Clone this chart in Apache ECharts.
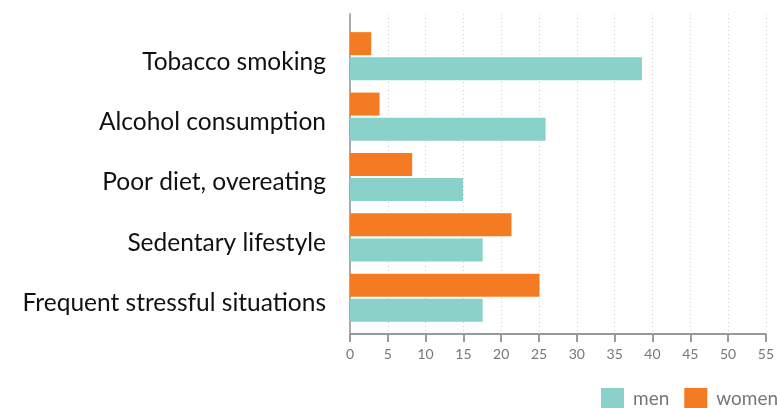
<!DOCTYPE html>
<html>
<head>
<meta charset="utf-8">
<style>
  html, body { margin: 0; padding: 0; background: #fff; }
  #chart { width: 777px; height: 408px; }
</style>
<script src="https://cdn.jsdelivr.net/npm/echarts@6/dist/echarts.min.js"></script>
</head>
<body>
<div id="chart"></div>
<script>
// Health risk factors, share of respondents (%)
const categories = [
  'Tobacco smoking',
  'Alcohol consumption',
  'Poor diet, overeating',
  'Sedentary lifestyle',
  'Frequent stressful situations'
];
const men = [38.5, 25.8, 14.9, 17.5, 17.5];
const women = [2.8, 3.9, 8.2, 21.3, 25];
const xTicks = { min: 0, max: 55, interval: 5 };

const COLOR_MEN = '#8ad1c9';
const COLOR_WOMEN = '#f47b21';
const FONT = 'Lato, "Open Sans", sans-serif';

const chart = echarts.init(document.getElementById('chart'), null, { renderer: 'canvas' });

chart.setOption({
  animation: false,
  backgroundColor: '#fff',
  legend: {
    data: ['men', 'women'],
    left: 601,
    top: 388,
    width: 400,
    padding: 0,
    itemWidth: 23,
    itemHeight: 22,
    itemGap: 15,
    icon: 'rect',
    textStyle: { color: '#777', fontSize: 19, fontFamily: FONT, padding: [0, 0, 0, 4] }
  },
  grid: [
    // bars
    { left: 350, right: 10, top: 26, bottom: 80, containLabel: false },
    // frame: axis lines, ticks, dotted guides
    { left: 350, right: 10, top: 14, bottom: 74, containLabel: false }
  ],
  xAxis: [
    {
      gridIndex: 0, type: 'value',
      min: xTicks.min, max: xTicks.max, interval: xTicks.interval,
      show: false
    },
    {
      gridIndex: 1, type: 'value',
      min: xTicks.min, max: xTicks.max, interval: xTicks.interval,
      axisLine: { show: true, lineStyle: { color: '#9a9a9a', width: 2 } },
      axisTick: { show: true, length: 8, lineStyle: { color: '#9a9a9a', width: 2 } },
      axisLabel: { color: '#777', fontSize: 14, fontFamily: FONT, margin: 13 },
      splitLine: { show: true, lineStyle: { color: '#cfcfcf', type: [1, 3], width: 1 } }
    }
  ],
  yAxis: [
    {
      gridIndex: 0, type: 'category', data: categories, inverse: true,
      axisLine: { show: false },
      axisTick: { show: false },
      axisLabel: {
        margin: 24,
        formatter: '{t|{value}}',
        rich: {
          t: { color: '#111', fontSize: 24.5, fontFamily: FONT, padding: [11, 0, 0, 0] }
        }
      },
      splitLine: { show: false }
    },
    {
      gridIndex: 1, type: 'value', min: 0, max: 1,
      axisLine: { show: true, lineStyle: { color: '#aaa', width: 2 } },
      axisTick: { show: false },
      axisLabel: { show: false },
      splitLine: { show: false }
    }
  ],
  series: [
    {
      name: 'women', type: 'bar', xAxisIndex: 0, yAxisIndex: 0,
      data: women, barWidth: 23, barGap: '9%',
      itemStyle: { color: COLOR_WOMEN }, z: 3
    },
    {
      name: 'men', type: 'bar', xAxisIndex: 0, yAxisIndex: 0,
      data: men, barWidth: 23, barGap: '9%',
      itemStyle: { color: COLOR_MEN }, z: 3
    }
  ]
});
</script>
</body>
</html>
